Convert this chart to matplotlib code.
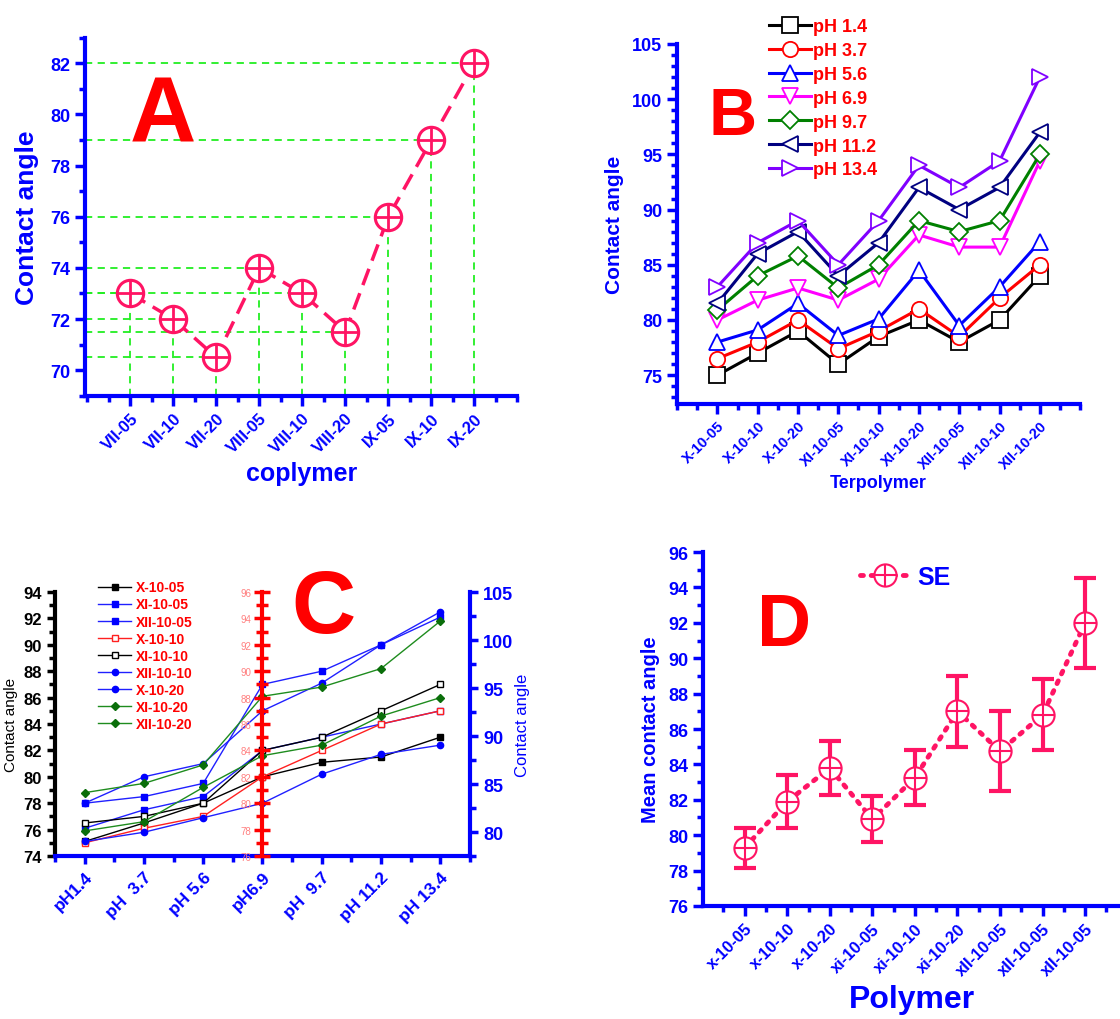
import matplotlib
matplotlib.use("Agg")
import matplotlib.pyplot as plt
import numpy as np
from matplotlib.ticker import MultipleLocator
from matplotlib.legend_handler import HandlerTuple

plt.rcParams['font.family'] = ['Liberation Sans', 'DejaVu Sans']
plt.rcParams['font.weight'] = 'bold'
plt.rcParams['axes.labelweight'] = 'bold'

BLUE = '#0000FF'
PINK = '#FF1464'
GUIDE = '#22EE22'
RED = '#FF0000'

# --- A: copolymers ---
copolymers = ['VII-05', 'VII-10', 'VII-20', 'VIII-05', 'VIII-10', 'VIII-20', 'IX-05', 'IX-10', 'IX-20']
copolymer_angle = [73, 72, 70.5, 74, 73, 71.5, 76, 79, 82]

# --- B: terpolymers at different pH ---
terpolymers = ['X-10-05', 'X-10-10', 'X-10-20', 'XI-10-05', 'XI-10-10', 'XI-10-20',
               'XII-10-05', 'XII-10-10', 'XII-10-20']
ph_names = ['pH 1.4', 'pH 3.7', 'pH 5.6', 'pH 6.9', 'pH 9.7', 'pH 11.2', 'pH 13.4']
ph_1_4 = [75.0, 77.0, 79.0, 76.0, 78.5, 80.0, 78.0, 80.0, 84.0]
ph_3_7 = [76.5, 78.0, 80.0, 77.4, 79.0, 81.0, 78.5, 82.0, 85.0]
ph_5_6 = [78.0, 79.1, 81.5, 78.6, 80.1, 84.5, 79.5, 83.0, 87.1]
ph_6_9 = [80.0, 81.8, 82.9, 81.8, 83.7, 87.7, 86.6, 86.6, 94.4]
ph_9_7 = [80.9, 84.0, 85.8, 82.9, 85.0, 89.0, 88.0, 89.0, 95.0]
ph_11_2 = [81.5, 86.0, 88.0, 84.0, 87.0, 92.0, 90.0, 92.0, 97.0]
ph_13_4 = [83.0, 87.0, 89.0, 85.0, 89.0, 94.0, 92.0, 94.4, 102.0]

# --- C: contact angle vs pH ---
ph_ticks = ['pH1.4', 'pH  3.7', 'pH 5.6', 'pH6.9', 'pH  9.7', 'pH 11.2', 'pH 13.4']
c_names = ['X-10-05', 'XI-10-05', 'XII-10-05', 'X-10-10', 'XI-10-10',
           'XII-10-10', 'X-10-20', 'XI-10-20', 'XII-10-20']
x_10_05 = [75.1, 76.5, 78.0, 80.0, 81.1, 81.5, 83.0]
xi_10_05 = [78.0, 78.5, 79.5, 87.0, 88.0, 90.0, 92.1]
xii_10_05 = [76.1, 77.5, 78.5, 82.0, 83.0, 84.0, 85.0]
x_10_10 = [75.0, 76.1, 77.0, 80.0, 82.0, 84.0, 85.0]
xi_10_10 = [76.5, 77.0, 78.0, 82.0, 83.0, 85.0, 87.0]
xii_10_10 = [78.0, 80.0, 81.0, 85.0, 87.1, 90.0, 92.5]
x_10_20 = [75.1, 75.8, 76.9, 78.0, 80.2, 81.7, 82.4]
xi_10_20 = [78.8, 79.5, 80.9, 86.1, 86.8, 88.2, 91.8]
xii_10_20 = [75.9, 76.6, 79.2, 81.6, 82.4, 84.6, 86.0]

# --- D: mean contact angle with SE ---
polymers = ['x-10-05', 'x-10-10', 'x-10-20', 'xi-10-05', 'xi-10-10', 'xi-10-20',
            'xII-10-05', 'xII-10-05', 'xII-10-05']
mean_angle = [79.3, 81.9, 83.8, 80.9, 83.25, 87.0, 84.75, 86.8, 92.0]
mean_se = [1.13, 1.5, 1.53, 1.3, 1.57, 2.0, 2.25, 2.0, 2.56]


def style_axes(ax, color=BLUE, lw=3):
    for s in ['top', 'right']:
        ax.spines[s].set_visible(False)
    for s in ['left', 'bottom']:
        ax.spines[s].set_color(color)
        ax.spines[s].set_linewidth(lw)
    ax.tick_params(which='major', length=7, width=2.5, color=color, labelcolor=color)
    ax.tick_params(which='minor', length=4, width=2.5, color=color)


def rotate_xlabels(ax, labels, size):
    ax.set_xticklabels(labels, rotation=45, ha='right', va='top',
                       rotation_mode='anchor', fontsize=size, color=BLUE)


fig = plt.figure(figsize=(11.2, 10.2), dpi=100)

# ---------------- A ----------------
axA = fig.add_axes([0.076, 0.611, 0.386, 0.351])
style_axes(axA)
xa = np.arange(len(copolymers))
axA.set_xlim(-1.05, 9.0)
axA.set_ylim(69, 83)
x0, _ = axA.get_xlim()
y0, _ = axA.get_ylim()
axA.hlines(copolymer_angle, x0, xa, colors=GUIDE, lw=1.3, linestyles=(0, (4, 3)), zorder=1)
axA.vlines(xa, y0, copolymer_angle, colors=GUIDE, lw=1.3, linestyles=(0, (4, 3)), zorder=1)
axA.plot(xa, copolymer_angle, color=PINK, lw=2.5, ls=(0, (5, 2.5)),
         marker='o', ms=19, mfc='white', mec=PINK, mew=2.2, zorder=3)
axA.plot(xa, copolymer_angle, ls='none', marker='+', ms=19, mec=PINK, mew=2, zorder=4)
axA.set_xticks(xa)
rotate_xlabels(axA, copolymers, 12)
axA.xaxis.set_minor_locator(MultipleLocator(0.5))
axA.set_yticks(np.arange(70, 83, 2))
axA.yaxis.set_minor_locator(MultipleLocator(1))
axA.tick_params(axis='y', labelsize=13)
axA.set_ylabel('Contact angle', color=BLUE, fontsize=19, labelpad=8)
axA.set_xlabel('coplymer', color=BLUE, fontsize=18, labelpad=4)
fig.text(163 / 1120, 1 - 142 / 1020, 'A', color=RED, fontsize=66,
         ha='center', va='baseline')

# ---------------- B ----------------
axB = fig.add_axes([0.6045, 0.603, 0.36, 0.353])
style_axes(axB)
xb = np.arange(len(terpolymers))
b_series = [ph_1_4, ph_3_7, ph_5_6, ph_6_9, ph_9_7, ph_11_2, ph_13_4]
b_colors = ['black', '#FF0000', '#0000FF', '#FF00FF', '#008000', '#000080', '#8000FF']
b_markers = ['s', 'o', '^', 'v', 'D', '<', '>']
b_lines = []
for vals, col, mk, name in zip(b_series, b_colors, b_markers, ph_names):
    ln, = axB.plot(xb, vals, color=col, lw=2.2, marker=mk, ms=11 if mk != 'D' else 9,
                   mfc='white', mec=col, mew=1.3, label=name)
    b_lines.append(ln)
axB.set_xlim(-1, 9)
axB.set_ylim(72.4, 105)
axB.set_xticks(xb)
rotate_xlabels(axB, terpolymers, 10.5)
axB.xaxis.set_minor_locator(MultipleLocator(0.5))
axB.set_yticks(np.arange(75, 106, 5))
axB.yaxis.set_minor_locator(MultipleLocator(1))
axB.tick_params(axis='y', labelsize=13)
axB.set_ylabel('Contact angle', color=BLUE, fontsize=15, labelpad=6)
axB.set_xlabel('Terpolymer', color=BLUE, fontsize=13, labelpad=2)
legB = fig.legend(handles=b_lines, loc='upper left', bbox_to_anchor=(762 / 1120, 1 - 12 / 1020),
                  frameon=False, fontsize=13, handlelength=2.3, handletextpad=0.15,
                  labelspacing=0.38, borderaxespad=0)
for t in legB.get_texts():
    t.set_color(RED)
fig.text(733 / 1120, 1 - 135 / 1020, 'B', color=RED, fontsize=48,
         ha='center', va='baseline')

# ---------------- C ----------------
axC = fig.add_axes([0.0491, 0.1598, 0.3705, 0.2588])
for s in ['top', 'right']:
    axC.spines[s].set_visible(False)
axC.spines['left'].set_color('black')
axC.spines['left'].set_linewidth(3)
axC.spines['bottom'].set_color(BLUE)
axC.spines['bottom'].set_linewidth(3)
xc = np.arange(len(ph_ticks))
c_series = [x_10_05, xi_10_05, xii_10_05, x_10_10, xi_10_10,
            xii_10_10, x_10_20, xi_10_20, xii_10_20]
c_colors = ['black', '#2020FF', '#2020FF', '#FF2020', 'black',
            '#2020FF', '#2020FF', '#1E8C1E', '#1E8C1E']
c_markers = ['s', 's', 's', 's', 's', 'o', 'o', 'D', 'D']
c_faces = ['black', '#0000FF', '#0000FF', 'white', 'white',
           '#0000FF', '#0000FF', '#0A6E0A', '#0A6E0A']
c_lines = []
for vals, col, mk, fc, name in zip(c_series, c_colors, c_markers, c_faces, c_names):
    ln, = axC.plot(xc, vals, color=col, lw=1.0, marker=mk, ms=4.5 if mk != 'D' else 4,
                   mfc=fc, mec=col if fc == 'white' else fc, mew=1.0, label=name, zorder=3)
    c_lines.append(ln)
axC.set_xlim(-0.5, 6.5)
axC.set_ylim(74, 94)
axC.set_xticks(xc)
rotate_xlabels(axC, ph_ticks, 12.5)
axC.xaxis.set_minor_locator(MultipleLocator(0.5))
axC.set_yticks(np.arange(74, 95, 2))
axC.yaxis.set_minor_locator(MultipleLocator(1))
axC.tick_params(axis='x', which='both', color=BLUE, width=2.5)
axC.tick_params(axis='x', which='major', length=6)
axC.tick_params(axis='x', which='minor', length=4)
axC.tick_params(axis='y', which='both', color='black', width=2.5, labelsize=12)
axC.tick_params(axis='y', which='major', length=6)
axC.tick_params(axis='y', which='minor', length=4)
axC.set_ylabel('Contact angle', color='black', fontsize=11, fontweight='normal', labelpad=4)
legC = axC.legend(handles=c_lines, loc='upper left', bbox_to_anchor=(0.09, 1.065),
                  frameon=False, fontsize=10, handlelength=2.4, handletextpad=0.3,
                  labelspacing=0.22, borderaxespad=0)
for t in legC.get_texts():
    t.set_color(RED)

# red axis placed at pH 6.9
axCr = axC.twinx()
axCr.set_ylim(76, 96)
for s in ['top', 'bottom', 'right']:
    axCr.spines[s].set_visible(False)
axCr.yaxis.set_ticks_position('left')
axCr.spines['left'].set_visible(True)
axCr.spines['left'].set_position(('data', xc[3]))
axCr.spines['left'].set_color(RED)
axCr.spines['left'].set_linewidth(3)
axCr.set_yticks(np.arange(76, 97, 2))
axCr.yaxis.set_minor_locator(MultipleLocator(1))
axCr.tick_params(which='both', direction='inout', color=RED, width=2.5)
axCr.tick_params(which='major', length=12, labelsize=7, labelcolor='#FF8080', pad=2)
axCr.tick_params(which='minor', length=8)
for t in axCr.get_yticklabels():
    t.set_fontweight('normal')

# blue axis on the right
axCb = axC.twinx()
axCb.set_ylim(77.5, 105)
for s in ['top', 'bottom', 'left']:
    axCb.spines[s].set_visible(False)
axCb.spines['right'].set_color(BLUE)
axCb.spines['right'].set_linewidth(3)
axCb.set_yticks(np.arange(80, 106, 5))
axCb.yaxis.set_minor_locator(MultipleLocator(2.5))
axCb.tick_params(which='both', color=BLUE, width=2.5, labelcolor=BLUE, labelsize=13)
axCb.tick_params(which='major', length=6)
axCb.tick_params(which='minor', length=4)
axCb.set_ylabel('Contact angle', color=BLUE, fontsize=12, fontweight='normal', labelpad=1)
fig.text(323 / 1120, 1 - 633 / 1020, 'C', color=RED, fontsize=64,
         ha='center', va='baseline')

# ---------------- D ----------------
axD = fig.add_axes([0.6277, 0.1108, 0.3723, 0.347])
style_axes(axD)
xd = np.arange(len(polymers))
axD.errorbar(xd, mean_angle, yerr=mean_se, fmt='none', ecolor=PINK,
             elinewidth=3, capsize=8, capthick=3, zorder=2)
d_line, = axD.plot(xd, mean_angle, color=PINK, lw=3.5, ls=(0, (0.6, 1.6)),
                   dash_capstyle='round', marker='o', ms=16, mfc='white', mec=PINK,
                   mew=1.5, zorder=3)
d_plus, = axD.plot(xd, mean_angle, ls='none', marker='+', ms=16, mec=PINK, mew=1.5, zorder=4)
axD.set_xlim(-0.98, 8.82)
axD.set_ylim(76, 96)
axD.set_xticks(xd)
rotate_xlabels(axD, polymers, 12)
axD.xaxis.set_minor_locator(MultipleLocator(0.5))
axD.set_yticks(np.arange(76, 97, 2))
axD.yaxis.set_minor_locator(MultipleLocator(1))
axD.tick_params(axis='y', labelsize=13)
axD.set_ylabel('Mean contact angle', color=BLUE, fontsize=14.5, labelpad=6)
axD.set_xlabel('Polymer', color=BLUE, fontsize=23, labelpad=4)
legD = fig.legend(handles=[(d_line, d_plus)], labels=['SE'],
                  handler_map={tuple: HandlerTuple(ndivide=1)},
                  loc='center left', bbox_to_anchor=(850 / 1120, 1 - 578 / 1020),
                  frameon=False, fontsize=18, handlelength=2.0, handletextpad=0.3,
                  borderaxespad=0)
for t in legD.get_texts():
    t.set_color(BLUE)
fig.text(784 / 1120, 1 - 646 / 1020, 'D', color=RED, fontsize=54,
         ha='center', va='baseline')

fig.savefig('out.png', dpi=100)
